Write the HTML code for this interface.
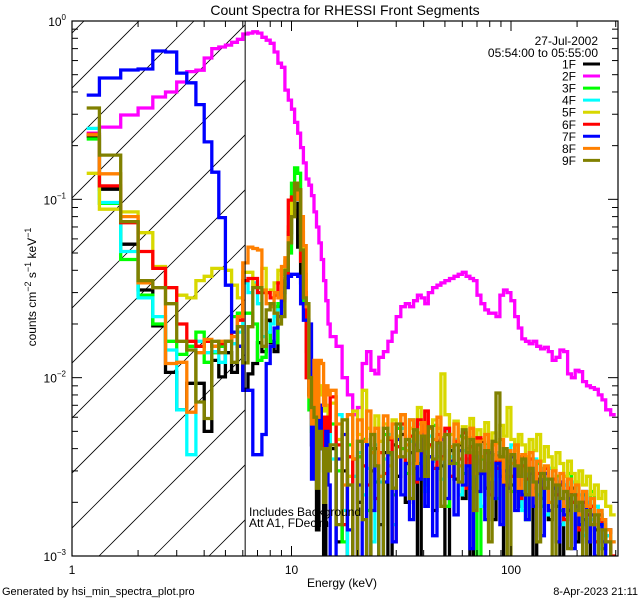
<!DOCTYPE html>
<html><head><meta charset="utf-8"><style>
html,body{margin:0;padding:0;background:#fff;}
svg{display:block;font-family:"Liberation Sans",sans-serif;}
</style></head><body>
<svg id="chart" width="640" height="600" viewBox="0 0 640 600" xmlns="http://www.w3.org/2000/svg">
<rect width="640" height="600" fill="#fff"/>
<defs><clipPath id="plotclip"><rect x="72" y="21" width="546" height="535"/></clipPath>
<clipPath id="hatchclip"><rect x="72" y="21" width="173" height="535"/></clipPath></defs>
<g id="hatch" clip-path="url(#hatchclip)"></g>
<g id="series" clip-path="url(#plotclip)"></g>
<g id="axes"></g>
<text x="345" y="15" font-size="14" text-anchor="middle">Count Spectra for RHESSI Front Segments</text>
<text x="342" y="587" font-size="12" text-anchor="middle">Energy (keV)</text>
<text transform="translate(36,287) rotate(-90)" font-size="12" text-anchor="middle">counts cm<tspan dy="-5" font-size="9">−2</tspan><tspan dy="5"> s</tspan><tspan dy="-5" font-size="9">−1</tspan><tspan dy="5"> keV</tspan><tspan dy="-5" font-size="9">−1</tspan></text>
<text x="598" y="45" font-size="12" text-anchor="end">27-Jul-2002</text>
<text x="598" y="57" font-size="12" text-anchor="end">05:54:00 to 05:55:00</text>
<g id="legend"></g>
<text x="249" y="516" font-size="12">Includes Background</text>
<text x="249" y="527" font-size="12">Att A1, FDecim</text>
<text x="2" y="595" font-size="11">Generated by hsi_min_spectra_plot.pro</text>
<text x="638" y="595" font-size="11" text-anchor="end">8-Apr-2023 21:11</text>
</svg>
<script>
const highEdgesBase=[15,17,19,21,23,25,27.5,30,33,36,39,42,46,50,55,60,65,70,76,82,89,96,104,112,121,131,142,154,167,181,196,212,230,250,270,300];
const seriesNames=["1F","2F","3F","4F","5F","6F","7F","8F","9F"];
const seriesColors=["#000000","#ff00ff","#00ff00","#00ffff","#d8d800","#ff0000","#0000ff","#ff8000","#808000"];
const low1F=[0.225,0.114,0.056,0.031,0.0195,0.0107,0.0066,0.0093,0.0093,0.005,0.0125,0.0101,0.0138,0.0107,0.015,0.0086,0.0105,0.012,0.0157,0.014,0.021,0.0157,0.014,0.025,0.028,0.035,0.065,0.09,0.095,0.054,0.034,0.027,0.018,0.008,0.0042,0.0055,0.0014,0.004,0.006,0.0009,0.004,0.003];
const low2F=[0.235,0.254,0.297,0.325,0.375,0.40,0.455,0.52,0.53,0.62,0.70,0.715,0.733,0.76,0.79,0.845,0.855,0.87,0.855,0.81,0.78,0.75,0.67,0.58,0.55,0.41,0.36,0.32,0.27,0.235,0.195,0.16,0.13,0.12,0.105,0.085,0.07,0.057,0.046,0.035,0.027,0.02];
const low3F=[0.218,0.095,0.046,0.029,0.020,0.016,0.0135,0.015,0.018,0.0122,0.0138,0.015,0.016,0.022,0.023,0.023,0.023,0.02,0.0125,0.013,0.018,0.016,0.0157,0.026,0.03,0.033,0.05,0.123,0.15,0.14,0.045,0.026,0.014,0.0066,0.005,0.009,0.004,0.006,0.0045,0.003,0.005,0.0035];
const low4F=[0.25,0.096,0.051,0.028,0.022,0.0143,0.0066,0.0037,0.016,0.0138,0.014,0.0122,0.016,0.0155,0.018,0.034,0.03,0.034,0.026,0.017,0.018,0.02,0.022,0.024,0.03,0.035,0.06,0.09,0.12,0.1,0.05,0.035,0.02,0.009,0.008,0.01,0.005,0.007,0.005,0.004,0.0035,0.005];
const low5F=[0.14,0.088,0.085,0.065,0.042,0.032,0.029,0.028,0.035,0.037,0.041,0.041,0.040,0.033,0.028,0.039,0.039,0.033,0.032,0.041,0.030,0.031,0.034,0.040,0.038,0.045,0.07,0.099,0.11,0.1,0.065,0.038,0.02,0.0114,0.008,0.0113,0.009,0.008,0.009,0.0065,0.007,0.006];
const low6F=[0.232,0.119,0.074,0.051,0.041,0.032,0.020,0.016,0.015,0.016,0.015,0.0155,0.016,0.018,0.021,0.035,0.036,0.036,0.030,0.030,0.030,0.028,0.029,0.034,0.027,0.036,0.099,0.103,0.123,0.113,0.045,0.03,0.01,0.008,0.006,0.009,0.0031,0.007,0.006,0.004,0.006,0.005];
const low7F=[0.384,0.479,0.531,0.538,0.679,0.67,0.51,0.45,0.34,0.21,0.142,0.079,0.033,0.018,0.015,0.0085,0.0085,0.0037,0.0037,0.0048,0.012,0.015,0.019,0.022,0.03,0.032,0.037,0.038,0.038,0.037,0.026,0.021,0.021,0.02,0.0027,0.006,0.0035,0.007,0.004,0.003,0.005,0.0025];
const low8F=[0.23,0.139,0.080,0.034,0.032,0.012,0.0122,0.0064,0.0138,0.0164,0.015,0.016,0.016,0.017,0.022,0.044,0.054,0.053,0.052,0.031,0.026,0.025,0.030,0.028,0.042,0.047,0.061,0.08,0.11,0.1,0.08,0.055,0.025,0.0078,0.0055,0.0125,0.006,0.0125,0.012,0.007,0.009,0.008];
const low9F=[0.325,0.177,0.075,0.035,0.032,0.026,0.016,0.0143,0.0073,0.0059,0.016,0.0138,0.016,0.0122,0.0193,0.0121,0.0193,0.032,0.032,0.015,0.024,0.026,0.023,0.02,0.022,0.04,0.057,0.08,0.123,0.113,0.052,0.028,0.026,0.010,0.0068,0.006,0.0024,0.005,0.004,0.002,0.004,0.003];
const high1F=[0.004,0.0012,0.003,0.0007,0.0035,0.002,0.0045,0.0009,0.003,0.004,0.0015,0.0038,0.0007,0.0042,0.0028,0.0048,0.002,0.0038,0.0031,0.0007,0.0045,0.0026,0.0036,0.0018,0.0044,0.0032,0.0008,0.0039,0.0027,0.0042,0.0021,0.0035,0.0007,0.0038,0.0029,0.0044,0.0024,0.0033,0.0016,0.0037,0.0028,0.0008,0.0034,0.0025,0.0031,0.0019,0.0036,0.0022,0.0029,0.0007,0.0027,0.0021,0.0031,0.0016,0.0025,0.0019,0.0007,0.0023,0.0018,0.0024,0.0012,0.002,0.0016,0.0007,0.0019,0.0014,0.0017,0.0011,0.0014,0.0008];
const high2F=[0.017,0.015,0.010,0.008,0.0062,0.0068,0.012,0.014,0.011,0.0105,0.013,0.014,0.016,0.018,0.022,0.025,0.026,0.025,0.027,0.029,0.028,0.026,0.030,0.032,0.033,0.034,0.035,0.036,0.037,0.038,0.039,0.037,0.036,0.035,0.029,0.026,0.024,0.023,0.023,0.022,0.029,0.031,0.030,0.027,0.022,0.019,0.0165,0.016,0.0155,0.016,0.015,0.0145,0.0148,0.014,0.0125,0.013,0.0143,0.014,0.0105,0.010,0.011,0.0108,0.0095,0.009,0.0088,0.0086,0.008,0.0075,0.0066,0.0062];
const high3F=[0.0055,0.003,0.0012,0.0042,0.0007,0.0036,0.0045,0.0018,0.004,0.0026,0.0007,0.0048,0.0037,0.0022,0.0052,0.004,0.0029,0.0058,0.0044,0.0033,0.0049,0.0025,0.0042,0.0054,0.0036,0.0046,0.0019,0.0041,0.0033,0.0047,0.0029,0.004,0.0024,0.0038,0.0008,0.0035,0.0042,0.003,0.0037,0.0021,0.0034,0.0028,0.0039,0.0023,0.0032,0.0026,0.0035,0.0016,0.003,0.0024,0.0033,0.0019,0.0027,0.0031,0.0022,0.0028,0.0018,0.0025,0.0029,0.002,0.0026,0.0015,0.0022,0.0019,0.0023,0.0012,0.0018,0.0015,0.0013,0.0009];
const high4F=[0.0035,0.0062,0.0018,0.0009,0.0028,0.0038,0.0022,0.0031,0.0012,0.0042,0.0026,0.0035,0.0048,0.0015,0.0041,0.0052,0.0033,0.0044,0.0029,0.0055,0.0038,0.0023,0.0047,0.0034,0.0042,0.0027,0.0051,0.0036,0.0045,0.0022,0.0039,0.0031,0.0046,0.0028,0.0036,0.0019,0.0041,0.0032,0.0027,0.0038,0.0021,0.0035,0.0029,0.0042,0.0025,0.0033,0.0018,0.003,0.0026,0.0035,0.0022,0.0029,0.0017,0.0031,0.0024,0.0027,0.0015,0.0025,0.0021,0.0026,0.0017,0.0022,0.0013,0.002,0.0016,0.0019,0.0011,0.0016,0.0013,0.0012];
const high5F=[0.0072,0.0045,0.0058,0.0028,0.0065,0.0048,0.0085,0.0052,0.0038,0.0061,0.0044,0.0055,0.0032,0.0058,0.0047,0.0062,0.0039,0.0052,0.0045,0.0068,0.0049,0.0056,0.0041,0.0058,0.0052,0.0105,0.0062,0.0048,0.0057,0.0043,0.0053,0.0046,0.0059,0.004,0.0051,0.0045,0.0056,0.0038,0.0049,0.0043,0.0054,0.0047,0.0068,0.0045,0.0039,0.0048,0.0042,0.0036,0.0045,0.0039,0.0048,0.0034,0.0041,0.0036,0.0031,0.0038,0.0033,0.0028,0.0034,0.0029,0.0026,0.003,0.0025,0.0028,0.0022,0.0025,0.0021,0.0023,0.0019,0.0017];
const high6F=[0.0078,0.0042,0.0015,0.0036,0.0007,0.0044,0.0032,0.0025,0.0048,0.0021,0.0038,0.0029,0.0045,0.0012,0.0041,0.0055,0.0033,0.0047,0.0026,0.0058,0.0038,0.0065,0.0042,0.0031,0.0048,0.0036,0.0052,0.0028,0.0044,0.0035,0.0049,0.0024,0.0041,0.0033,0.0046,0.0029,0.0038,0.0022,0.0042,0.0031,0.0036,0.0025,0.0039,0.0028,0.0034,0.0021,0.0032,0.0027,0.0035,0.0019,0.0029,0.0024,0.0031,0.0018,0.0027,0.0022,0.0025,0.0016,0.0024,0.002,0.0022,0.0014,0.002,0.0017,0.0019,0.0012,0.0016,0.0014,0.0012,0.001];
const high7F=[0.0006,0.0035,0.0048,0.0014,0.0006,0.0025,0.0009,0.0042,0.0018,0.0032,0.0007,0.0026,0.0038,0.0012,0.0045,0.0022,0.0033,0.0016,0.0042,0.0027,0.0048,0.0019,0.0036,0.0013,0.0031,0.0045,0.0021,0.0034,0.0017,0.0039,0.0025,0.0032,0.0011,0.0036,0.0023,0.0029,0.0016,0.0038,0.0021,0.0033,0.0015,0.003,0.0024,0.0036,0.0018,0.0028,0.0022,0.0016,0.0031,0.0019,0.0026,0.0013,0.0029,0.0018,0.0024,0.0012,0.0026,0.0017,0.0021,0.0011,0.0019,0.0015,0.0023,0.0012,0.0017,0.001,0.0015,0.0012,0.0009,0.0008];
const high8F=[0.0085,0.0055,0.0025,0.0062,0.0035,0.0058,0.0044,0.0065,0.0038,0.0052,0.0028,0.0061,0.0046,0.0055,0.0036,0.0062,0.0042,0.0058,0.0033,0.0049,0.0056,0.004,0.0052,0.0045,0.006,0.0035,0.0048,0.0041,0.0055,0.0032,0.0046,0.0039,0.0052,0.0029,0.0044,0.0036,0.0048,0.0027,0.0042,0.0035,0.0045,0.0026,0.0039,0.0033,0.0042,0.0024,0.0037,0.003,0.0038,0.0022,0.0034,0.0028,0.0032,0.002,0.003,0.0025,0.0029,0.0019,0.0027,0.0023,0.0025,0.0017,0.0023,0.0019,0.0021,0.0015,0.0018,0.0016,0.0014,0.0012];
const high9F=[0.0042,0.0015,0.0058,0.0025,0.0006,0.0044,0.0016,0.0006,0.0048,0.0032,0.0009,0.0052,0.0038,0.0024,0.0055,0.0036,0.0045,0.0021,0.0051,0.0039,0.0047,0.0028,0.0053,0.0035,0.0043,0.0019,0.0048,0.0033,0.0042,0.0026,0.0051,0.0038,0.0045,0.0018,0.0042,0.003,0.0039,0.0012,0.0044,0.0082,0.0036,0.004,0.0009,0.0037,0.0032,0.0028,0.0035,0.0022,0.0031,0.0026,0.0012,0.0029,0.0024,0.0027,0.0008,0.0025,0.0021,0.0023,0.0011,0.0022,0.0018,0.002,0.0007,0.0018,0.0015,0.0017,0.0006,0.0014,0.0012,0.0009];
const xTickLabels=["1","10","100"];
const yTickExps=["0","−1","−2","−3"];
const cutoffEnergy=6.15;

const NS="http://www.w3.org/2000/svg";
const X0=72,X1=618,Y0=21,Y1=556;
const XMIN=1,XMAX=10**((X1-X0)/219.5);
const YMIN=1e-3,YMAX=1;
function xs(e){return X0+(Math.log10(e)-Math.log10(XMIN))/(Math.log10(XMAX)-Math.log10(XMIN))*(X1-X0);}
function ys(v){if(v<=YMIN*0.5)v=YMIN*0.5;return Y1-(Math.log10(v)-Math.log10(YMIN))/(Math.log10(YMAX)-Math.log10(YMIN))*(Y1-Y0);}
function mk(tag,parent){const el=document.createElementNS(NS,tag);parent.appendChild(el);return el;}

const edges=[];for(let i=0;i<42;i++)edges.push(1+i/3);
for(let i=0;i<highEdgesBase.length-1;i++){const a=highEdgesBase[i],b=highEdgesBase[i+1];edges.push(a);edges.push(Math.sqrt(a*b));}
edges.push(highEdgesBase[highEdgesBase.length-1]);

const hatch=document.getElementById('hatch');
for(let k=-10;k<=3;k++){const b=99+55*k;const ln=mk('line',hatch);


ln.setAttribute('x1',b);ln.setAttribute('y1',Y1);ln.setAttribute('x2',b+(Y1-Y0));ln.setAttribute('y2',Y0);ln.setAttribute('stroke','#000');ln.setAttribute('stroke-width','0.8');}

const lows=[low1F,low2F,low3F,low4F,low5F,low6F,low7F,low8F,low9F];
const highs=[high1F,high2F,high3F,high4F,high5F,high6F,high7F,high8F,high9F];
const sg=document.getElementById('series');
lows.forEach((lo,si)=>{const vals=lo.concat(highs[si]);let d='';
 for(let i=0;i<vals.length&&i+1<edges.length;i++){const xa=i===0?xs((edges[0]+edges[1])/2):xs(edges[i]);const xb=xs(edges[i+1]);const y=ys(vals[i]);
  d+=(i===0?'M':'L')+xa.toFixed(1)+' '+y.toFixed(1)+'L'+xb.toFixed(1)+' '+y.toFixed(1);}
 const p=mk('path',sg);
 
 
 p.setAttribute('d',d);p.setAttribute('fill','none');p.setAttribute('stroke',seriesColors[si]);p.setAttribute('stroke-width','3.3');p.setAttribute('stroke-linejoin','miter');
});

const ax=document.getElementById('axes');
const fr=mk('rect',ax);


fr.setAttribute('x',X0);fr.setAttribute('y',Y0);fr.setAttribute('width',X1-X0);fr.setAttribute('height',Y1-Y0);fr.setAttribute('fill','none');fr.setAttribute('stroke','#000');fr.setAttribute('stroke-width','1.2');
const cl=mk('line',ax);


cl.setAttribute('x1',xs(cutoffEnergy));cl.setAttribute('x2',xs(cutoffEnergy));cl.setAttribute('y1',Y0);cl.setAttribute('y2',Y1);cl.setAttribute('stroke','#000');cl.setAttribute('stroke-width','1');
function tick(x1,y1,x2,y2,name){const t=mk('line',ax);
 
 
 t.setAttribute('x1',x1);t.setAttribute('y1',y1);t.setAttribute('x2',x2);t.setAttribute('y2',y2);t.setAttribute('stroke','#000');t.setAttribute('stroke-width','1');}
for(let dec=0;dec<3;dec++){for(let m=1;m<10;m++){const e=m*10**dec;if(e>XMAX)break;const x=xs(e);const L=m===1?10:6;
 tick(x,Y1,x,Y1-L,'x-tick');tick(x,Y0,x,Y0+L,'x-tick-top');}
 const t=mk('text',ax);
 
 
 t.setAttribute('x',xs(10**dec));t.setAttribute('y',Y1+18);t.setAttribute('font-size','12');t.setAttribute('text-anchor','middle');t.textContent=xTickLabels[dec];}
for(let dec=-3;dec<=0;dec++){for(let m=1;m<10;m++){const v=m*10**dec;if(v>YMAX)break;const y=ys(v);const L=m===1?10:6;
 tick(X0,y,X0+L,y,'y-tick');tick(X1,y,X1-L,y,'y-tick-right');}
 const t=mk('text',ax);
 
 
 t.setAttribute('x',X0-6);t.setAttribute('y',ys(10**dec)+5);t.setAttribute('font-size','12');t.setAttribute('text-anchor','end');
 t.innerHTML='10<tspan dy="-6" font-size="8">'+yTickExps[-dec]+'</tspan>';}

const lg=document.getElementById('legend');
seriesNames.forEach((n,i)=>{const y=64+i*12.05;
 const t=mk('text',lg);
 
 
 t.setAttribute('x',576);t.setAttribute('y',y+4.5);t.setAttribute('font-size','12');t.setAttribute('text-anchor','end');t.textContent=n;
 const l=mk('line',lg);
 
 
 l.setAttribute('x1',583);l.setAttribute('x2',600);l.setAttribute('y1',y);l.setAttribute('y2',y);l.setAttribute('stroke',seriesColors[i]);l.setAttribute('stroke-width','3');});
</script>
</body></html>
